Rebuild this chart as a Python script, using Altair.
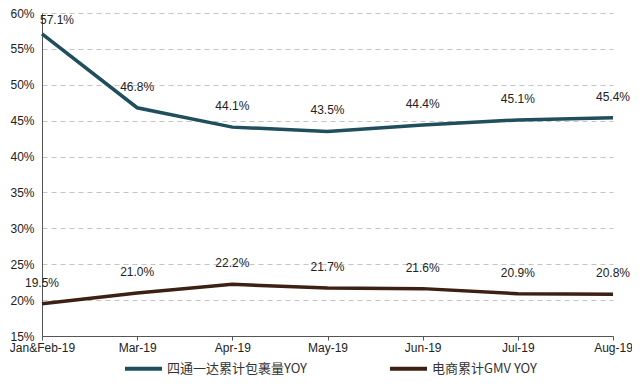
import altair as alt
import pandas as pd

months = ["Jan&Feb-19", "Mar-19", "Apr-19", "May-19", "Jun-19", "Jul-19", "Aug-19"]
series_names = ["四通一达累计包裹量YOY", "电商累计GMV YOY"]
parcel_yoy = [57.1, 46.8, 44.1, 43.5, 44.4, 45.1, 45.4]
gmv_yoy = [19.5, 21.0, 22.2, 21.7, 21.6, 20.9, 20.8]
y_ticks = [15, 20, 25, 30, 35, 40, 45, 50, 55, 60]
colors = ["#1f4e5c", "#3d2014"]

rows = []
for i, m in enumerate(months):
    rows.append({"month": m, "idx": i, "series": series_names[0], "v": parcel_yoy[i]})
    rows.append({"month": m, "idx": i, "series": series_names[1], "v": gmv_yoy[i]})
df = pd.DataFrame(rows)

x = alt.X("month:N", sort=months,
          scale=alt.Scale(type="point", padding=0),
          axis=alt.Axis(title=None, labelAngle=0, grid=False, ticks=True, tickSize=4,
                        tickColor="#555", domainColor="#555", labelFontSize=12,
                        labelColor="#222", labelPadding=2, labelFont="Liberation Sans"))
y = alt.Y("v:Q", scale=alt.Scale(domain=[15, 60], nice=False, zero=False),
          axis=alt.Axis(title=None, values=y_ticks, labelExpr="datum.value + '%'",
                        grid=True, gridDash=[5, 4], gridColor="#c4c4c4", ticks=False,
                        domainColor="#555", labelFontSize=12, labelColor="#222",
                        labelPadding=8, labelFont="Liberation Sans"))
color = alt.Color("series:N",
                  scale=alt.Scale(domain=series_names, range=colors),
                  legend=alt.Legend(title=None, orient="none", direction="horizontal",
                                    legendX=81, legendY=335, symbolType="stroke",
                                    symbolSize=1369, symbolStrokeWidth=4,
                                    labelFont="Noto Sans CJK SC", labelFontSize=13,
                                    labelColor="#333", columnPadding=75, labelOffset=3,
                                    labelLimit=300))

base = alt.Chart(df).transform_calculate(
    label="format(datum.v, '.1f') + '%'"
)

lines = base.mark_line(strokeWidth=3.5).encode(x=x, y=y, color=color)

labels_main = base.transform_filter(
    "!(datum.idx == 0 && datum.v > 50)"
).mark_text(dy=-21, fontSize=12, font="Liberation Sans", color="#222", align="center").encode(
    x=x, y=y, text="label:N"
)
labels_first = base.transform_filter(
    "datum.idx == 0 && datum.v > 50"
).mark_text(dy=-14, dx=-2, fontSize=12, font="Liberation Sans", color="#222", align="left").encode(
    x=x, y=y, text="label:N"
)

chart = alt.layer(lines, labels_main, labels_first).properties(
    width=571, height=323,
    autosize=alt.AutoSizeParams(type="none"),
    padding={"left": 34, "top": 5, "right": 19, "bottom": 44},
).configure_view(stroke=None)

chart.save("out.html", embed_options={"renderer": "svg", "actions": False})
